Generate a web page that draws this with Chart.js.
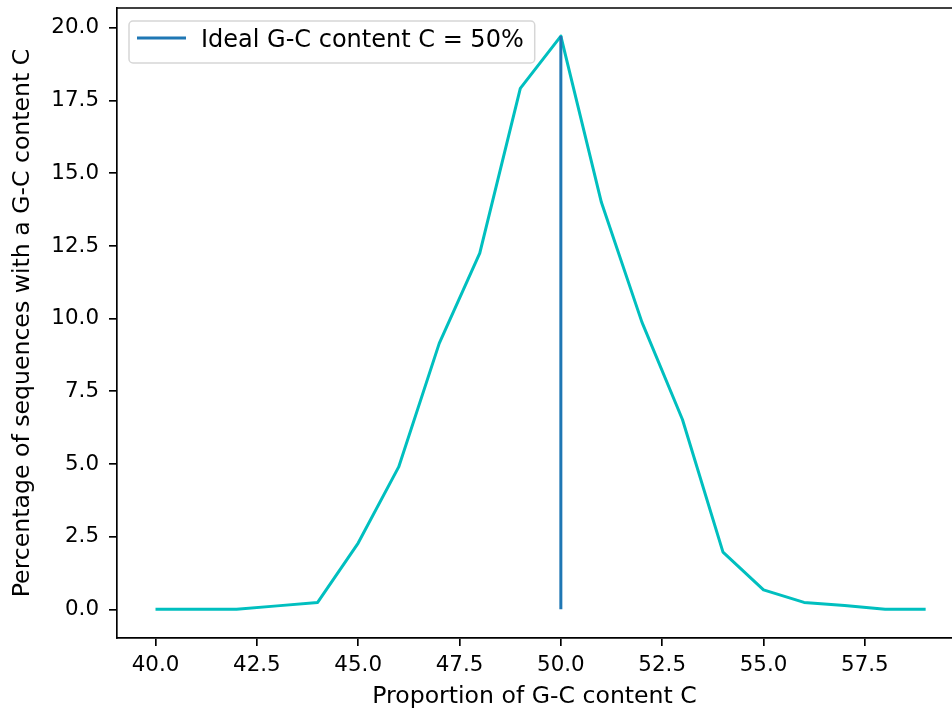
<!DOCTYPE html>
<html lang="en">
<head>
    <meta charset="UTF-8">
    <title>G-C content distribution</title>
    <script src="https://cdn.jsdelivr.net/npm/chart.js"></script>
    <style>
        html, body { margin: 0; padding: 0; background: #fff; }
        #wrap { width: 952px; height: 709px; overflow: hidden; }
    </style>
</head>
<body>
    <div id="wrap">
        <canvas id="gcChart" width="952" height="709"></canvas>
    </div>

    <script>
        // G-C content (%) and share of sequences at each value
        const gcContent = [40, 41, 42, 43, 44, 45, 46, 47, 48, 49, 50, 51, 52, 53, 54, 55, 56, 57, 58, 59];
        const seqPercent = [0, 0, 0, 0.12, 0.24, 2.28, 4.9, 9.15, 12.25, 17.92, 19.72, 14.0, 9.88, 6.53, 1.97, 0.67, 0.24, 0.13, 0, 0];

        // vertical marker at the ideal content
        const idealX = [50, 50];
        const idealY = [0, 19.72];
        const idealLabel = 'Ideal G-C content C = 50%';

        const xTicks = [40, 42.5, 45, 47.5, 50, 52.5, 55, 57.5];
        const yTicks = [0, 2.5, 5, 7.5, 10, 12.5, 15, 17.5, 20];

        Chart.defaults.font.family = '"DejaVu Sans", sans-serif';
        Chart.defaults.color = '#000';

        const spine = 1.67;

        // top spine (right one falls outside the picture)
        const topFrame = {
            id: 'topFrame',
            afterDraw(chart) {
                const { ctx, chartArea } = chart;
                ctx.save();
                ctx.strokeStyle = '#000';
                ctx.lineWidth = spine;
                ctx.beginPath();
                ctx.moveTo(chartArea.left - spine / 2, chartArea.top);
                ctx.lineTo(chartArea.right, chartArea.top);
                ctx.stroke();
                ctx.restore();
            }
        };

        // matplotlib-like legend box in the upper left corner
        const boxLegend = {
            id: 'boxLegend',
            afterDraw(chart) {
                const { ctx, chartArea } = chart;
                const ds = chart.data.datasets.find(d => d.label);
                if (!ds) return;
                const x0 = chartArea.left + 12;
                const y0 = chartArea.top + 13;
                ctx.save();
                ctx.font = '24px "DejaVu Sans", sans-serif';
                const textX = x0 + 72;
                const w = textX - x0 + ctx.measureText(ds.label).width + 11;
                const h = 42;
                ctx.beginPath();
                ctx.roundRect(x0, y0, w, h, 4);
                ctx.fillStyle = 'rgba(255,255,255,0.8)';
                ctx.fill();
                ctx.strokeStyle = '#d6d6d6';
                ctx.lineWidth = 1.5;
                ctx.stroke();

                ctx.strokeStyle = ds.borderColor;
                ctx.lineWidth = ds.borderWidth;
                ctx.beginPath();
                ctx.moveTo(x0 + 8, y0 + 17);
                ctx.lineTo(x0 + 57, y0 + 17);
                ctx.stroke();

                ctx.fillStyle = '#000';
                ctx.textBaseline = 'alphabetic';
                ctx.fillText(ds.label, textX, y0 + 26);
                ctx.restore();
            }
        };

        const tickOpts = {
            grid: {
                display: true,
                drawOnChartArea: false,
                drawTicks: true,
                tickLength: 8,
                color: '#000',
                lineWidth: spine
            },
            border: { display: true, color: '#000', width: spine }
        };

        new Chart(document.getElementById('gcChart'), {
            type: 'line',
            data: {
                datasets: [
                    {
                        label: idealLabel,
                        data: idealX.map((x, i) => ({ x: x, y: idealY[i] })),
                        borderColor: '#1f77b4',
                        borderWidth: 3,
                        pointRadius: 0,
                        order: 0
                    },
                    {
                        label: '',
                        data: gcContent.map((x, i) => ({ x: x, y: seqPercent[i] })),
                        borderColor: '#00bfbf',
                        borderWidth: 3,
                        borderJoinStyle: 'round',
                        pointRadius: 0,
                        tension: 0,
                        order: 1
                    }
                ]
            },
            options: {
                responsive: false,
                animation: false,
                devicePixelRatio: 1,
                layout: { padding: { top: 8, right: 0, bottom: 0, left: 0 } },
                plugins: {
                    legend: { display: false },
                    tooltip: { enabled: false }
                },
                scales: {
                    x: {
                        type: 'linear',
                        min: 39.05,
                        max: 59.65,
                        ...tickOpts,
                        afterBuildTicks: s => { s.ticks = xTicks.map(v => ({ value: v })); },
                        afterFit: s => {
                            s.height = 71;
                            s.paddingLeft = 0; s.paddingRight = 0;
                        },
                        ticks: {
                            font: { size: 21.4 },
                            padding: 7,
                            maxRotation: 0,
                            autoSkip: false,
                            callback: v => Number(v).toFixed(1)
                        },
                        title: {
                            display: true,
                            text: 'Proportion of G-C content C',
                            font: { size: 23.6, lineHeight: 1 },
                            padding: { top: 0, bottom: 0 }
                        }
                    },
                    y: {
                        type: 'linear',
                        min: -0.985,
                        max: 20.685,
                        ...tickOpts,
                        afterBuildTicks: s => { s.ticks = yTicks.map(v => ({ value: v })); },
                        afterFit: s => {
                            s.width = 117;
                            s.paddingTop = 0; s.paddingBottom = 0;
                        },
                        ticks: {
                            font: { size: 21.4 },
                            padding: 10,
                            autoSkip: false,
                            callback: v => Number(v).toFixed(1)
                        },
                        title: {
                            display: true,
                            text: 'Percentage of sequences with a G-C content C',
                            font: { size: 23.6, lineHeight: 1 },
                            padding: { top: 11, bottom: 0 }
                        }
                    }
                }
            },
            plugins: [topFrame, boxLegend]
        });
    </script>
</body>
</html>
